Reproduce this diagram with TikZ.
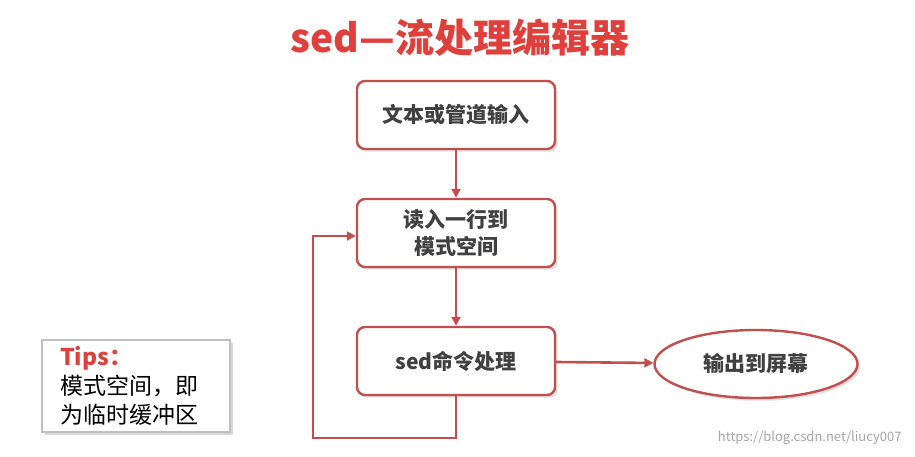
\documentclass[tikz,border=0pt]{standalone}
\usepackage{fontspec}
\setmainfont{Noto Sans CJK SC}
\usetikzlibrary{arrows.meta,shadows,shapes.geometric}
\definecolor{rd}{HTML}{C0504D}
\definecolor{tt}{HTML}{E0403C}
\definecolor{tx}{HTML}{404040}
\tikzset{
 box/.style={draw=rd,line width=2.4pt,fill=white,rounded corners=8pt,minimum width=198pt,minimum height=68pt,align=center,text=tx,font=\fontsize{21}{27}\selectfont\bfseries,drop shadow={opacity=0.25}},
 ell/.style={draw=rd,line width=2.4pt,fill=white,ellipse,minimum width=203pt,minimum height=68pt,inner sep=0pt,text=tx,font=\fontsize{21}{27}\selectfont\bfseries,drop shadow={opacity=0.25}},
 arr/.style={draw=rd,line width=2.6pt,-{Triangle[length=9pt,width=9pt]}}
}
\begin{document}
\begin{tikzpicture}[x=1pt,y=-1pt]
\useasboundingbox (0,0) rectangle (915,457);
\fill[white] (0,0) rectangle (915,457);
\node[text=tt,font=\fontsize{39}{44}\selectfont\bfseries] (title) at (460,38) {sed—流处理编辑器};
\node[box] (b1) at (456,115) {文本或管道输入};
\node[box] (b2) at (456,233) {读入一行到\\模式空间};
\node[box] (b3) at (456,361) {sed命令处理};
\node[ell] (e) at (756,364) {输出到屏幕};
\draw[arr] (b1) -- (b2);
\draw[arr] (b2) -- (b3);
\draw[arr] (b3) -- (e);
\coordinate (c1) at (456,438);
\coordinate (c2) at (313,438);
\coordinate (c3) at (313,236);
\draw[arr] (b3.south) -- (c1) -- (c2) -- (c3) -- (b2.west|-c3);
\node[draw=gray!50,line width=1.2pt,fill=white,minimum width=188pt,minimum height=92pt,drop shadow={opacity=0.3}] (tips) at (136,386) {};
\node[anchor=north west,align=left,text=black,font=\fontsize{23}{29}\selectfont,inner sep=0pt] (tt) at (60,346)
 {\textcolor{tt}{\bfseries\itshape Tips：}\\模式空间，即\\为临时缓冲区};
\node[anchor=east,text=gray!70,font=\fontsize{13}{15}\selectfont] (wm) at (905,438) {https://blog.csdn.net/liucy007};
\end{tikzpicture}
\end{document}
